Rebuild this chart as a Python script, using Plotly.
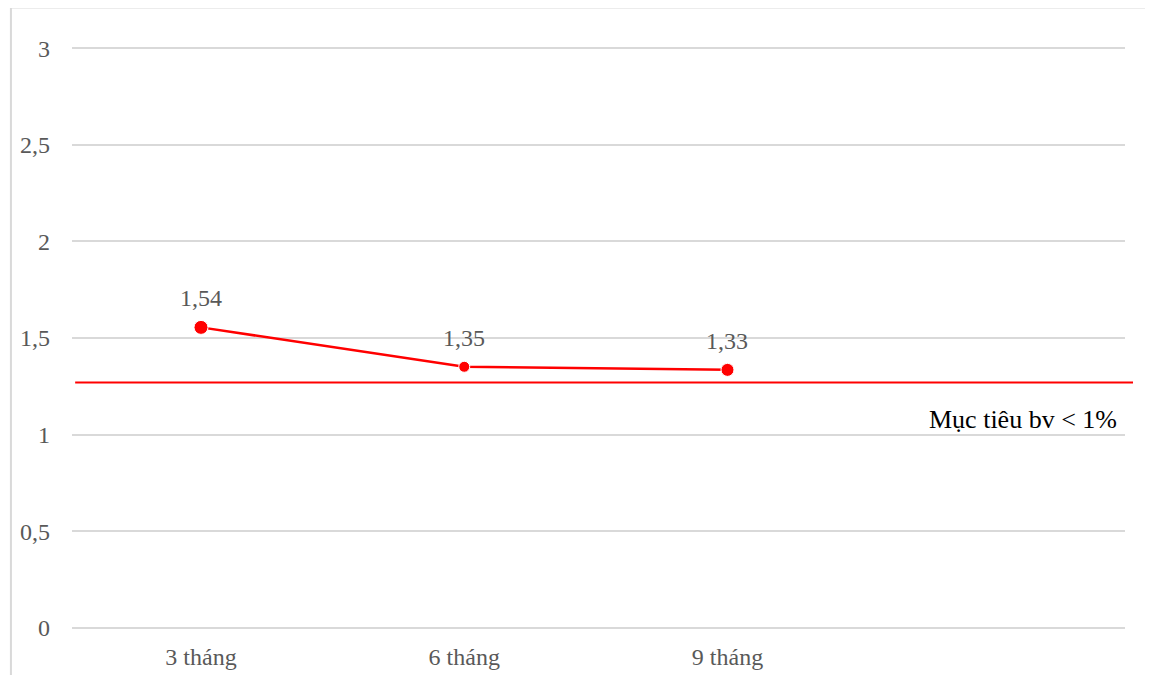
import plotly.graph_objects as go

months = ["3 tháng", "6 tháng", "9 tháng"]
rates = [1.555, 1.351, 1.335]
rate_labels = ["1,54", "1,35", "1,33"]
target_value = 1.27
target_text = "Mục tiêu bv < 1%"
y_ticks = [0, 0.5, 1, 1.5, 2, 2.5, 3]

RED = "#ff0000"
SERIF = "Liberation Serif"
FONT = dict(family=SERIF, size=24, color="#595959")

fig = go.Figure()
fig.add_trace(
    go.Scatter(
        x=months,
        y=rates,
        mode="lines+markers",
        line=dict(color=RED, width=2.5),
        marker=dict(color=RED, size=[14, 11, 13], opacity=1),
        cliponaxis=False,
        showlegend=False,
    )
)

# value labels above the points
for m, r, lab in zip(months, rates, rate_labels):
    fig.add_annotation(
        x=m, y=r, text=lab, showarrow=False, yshift=29,
        xanchor="center", yanchor="middle", font=FONT,
    )

# target line, runs a little past the plot area on the right
fig.add_shape(
    type="line", xref="paper", yref="y",
    x0=0.003, x1=1.0076, y0=target_value, y1=target_value,
    line=dict(color=RED, width=2),
)
fig.add_annotation(
    xref="paper", yref="y", x=0.994, y=target_value, yshift=-37,
    xanchor="right", yanchor="middle", showarrow=False,
    text=target_text,
    font=dict(family=SERIF, size=26, color="black"),
)

# frame edges (left and top only)
fig.add_shape(type="line", xref="paper", yref="paper", x0=-0.058, x1=1.1, y0=1.066, y1=1.066,
              line=dict(color="#d9d9d9", width=2))
fig.add_shape(type="line", xref="paper", yref="paper", x0=-0.058, x1=-0.058, y0=-0.2, y1=1.066,
              line=dict(color="#d9d9d9", width=2))

fig.update_layout(
    width=1153,
    height=675,
    margin=dict(l=62, r=36, t=38, b=53),
    paper_bgcolor="white",
    plot_bgcolor="white",
    separators=",.",
    font=FONT,
    xaxis=dict(
        type="category",
        range=[-0.49, 3.51],
        showgrid=False,
        showline=False,
        zeroline=False,
        ticks="",
        tickfont=FONT,
        ticklabelstandoff=10,
    ),
    yaxis=dict(
        range=[-0.012, 3.012],
        tickvals=y_ticks,
        showgrid=True,
        gridcolor="#d9d9d9",
        gridwidth=1.5,
        zeroline=False,
        showline=False,
        ticks="",
        tickfont=FONT,
        ticklabelstandoff=21,
    ),
)

fig.write_html("out.html")
